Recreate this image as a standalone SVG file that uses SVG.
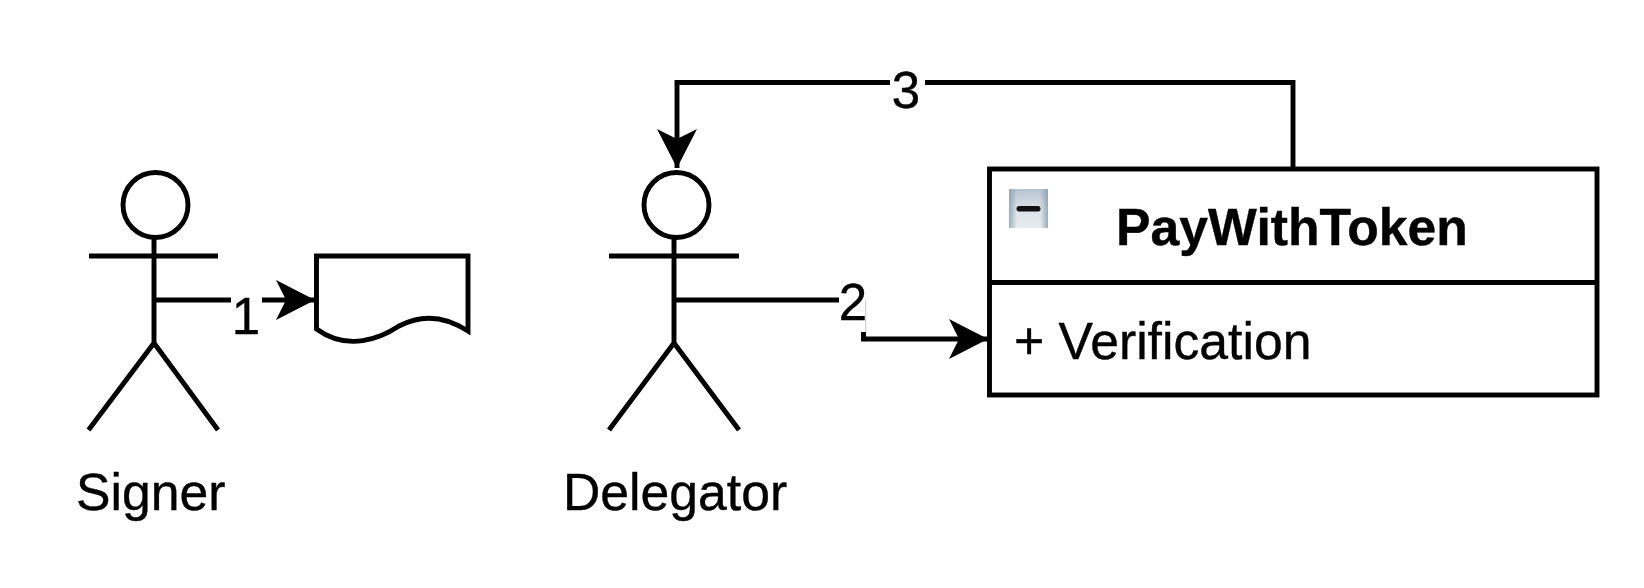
<svg xmlns="http://www.w3.org/2000/svg" width="1644" height="588" viewBox="0 0 1644 588">
<style>
.s{fill:none;stroke:#000;stroke-width:4.9}
.f{fill:#fff;stroke:#000;stroke-width:4.9}
text{font-family:"Liberation Sans",Arial,sans-serif;fill:#000;stroke:#000;stroke-width:.4}
.t{font-size:51.7px}
.n{font-size:51px;text-anchor:middle}
</style>
<defs>
<linearGradient id="g" x1="0" y1="0" x2="0" y2="1"><stop offset="0" stop-color="#b4c2d0"/><stop offset="0.5" stop-color="#dbe2e8"/><stop offset="1" stop-color="#e6ecf0"/></linearGradient>
<linearGradient id="e" x1="0" y1="0" x2="1" y2="0"><stop offset="0" stop-color="#8a9cae" stop-opacity=".8"/><stop offset="0.2" stop-color="#8a9cae" stop-opacity="0"/><stop offset="0.8" stop-color="#8a9cae" stop-opacity="0"/><stop offset="1" stop-color="#8a9cae" stop-opacity=".8"/></linearGradient>
<marker id="a" markerUnits="userSpaceOnUse" markerWidth="42" markerHeight="42" refX="39" refY="20" orient="auto"><path d="M0 0L39 20L0 40L10 20Z" fill="#000"/></marker>
</defs>
<g id="connectors">
<path class="s" d="M155 300H231"/>
<path class="s" d="M262 300H315" marker-end="url(#a)"/>
<path class="s" d="M676 300H839"/>
<path d="M865.7 300V335" fill="none" stroke="#c4c4c4" stroke-width="1"/>
<path class="s" d="M863.500 332V339H988" marker-end="url(#a)"/>
<path class="s" d="M1293 169V82.500H925"/>
<path class="s" d="M890 82.500H677V168" marker-end="url(#a)"/>
</g>
<g id="label-1"><text class="n" x="246" y="334">1</text></g>
<g id="label-2"><text class="n" x="853" y="320">2</text></g>
<g id="label-3"><text class="n" x="906" y="108">3</text></g>
<g id="signer">
<circle class="s" cx="155.500" cy="205" r="32.500"/>
<path class="s" d="M154 237V343M89 256H218M154 343L88.500 430M154 343L218 430"/>
<text class="t" x="76" y="510">Signer</text>
</g>
<g id="token">
<path class="f" d="M316.500 256H468V331C442 314 418 316 399 326C381 338 348 352 316.500 329Z"/>
</g>
<g id="delegator">
<circle class="s" cx="676.500" cy="205" r="32.500"/>
<path class="s" d="M674 237V343M609 256H739M674 343L609 430M674 343L739 430"/>
<text class="t" x="563" y="510">Delegator</text>
</g>
<g id="paywithtoken">
<rect class="f" x="989.500" y="169" width="607.500" height="226"/>
<path class="s" d="M989.500 282.500H1597"/>
<rect x="1009" y="189" width="39" height="39" fill="url(#g)"/>
<rect x="1009" y="189" width="39" height="39" fill="url(#e)"/>
<rect x="1016.500" y="206" width="24" height="5.500" rx="2.500" fill="#111"/>
<text x="1292" y="245" font-size="51.700" font-weight="700" text-anchor="middle">PayWithToken</text>
<text class="t" x="1014" y="359">+ Verification</text>
</g>
</svg>
